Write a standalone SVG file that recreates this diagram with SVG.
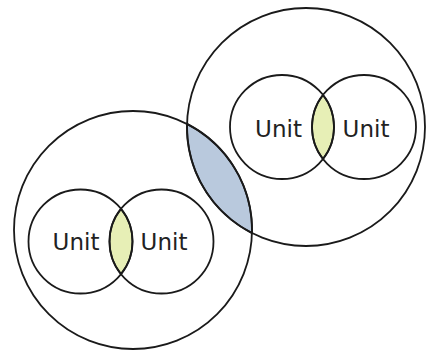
<svg xmlns="http://www.w3.org/2000/svg" width="426" height="358" viewBox="0 0 426 358">
<style>
.c{fill:none;stroke:#1a1a1a;stroke-width:1.8}
.l{stroke:#1a1a1a;stroke-width:1.8}
.blue{fill:#b9c9dd}
.yel{fill:#e7efb6}
.t{font-family:"DejaVu Sans",sans-serif;font-size:23px;fill:#222;text-anchor:middle}
</style>
<rect width="426" height="358" fill="#fff"/>
<g id="overlap-groups">
<path class="blue l" d="M187,123.9 A119 119 0 0 1 252,233.1 A119 119 0 0 1 187,123.9 Z"/>
</g>
<g id="overlap-left">
<path class="yel l" d="M121,208.9 A52 52 0 0 1 121,274.1 A52 52 0 0 1 121,208.9 Z"/>
</g>
<g id="overlap-right">
<path class="yel l" d="M323,95 A52 52 0 0 1 323,159 A52 52 0 0 1 323,95 Z"/>
</g>
<g id="group-left">
<circle class="c" cx="133" cy="230" r="119"/>
</g>
<g id="group-right">
<circle class="c" cx="306" cy="127" r="119"/>
</g>
<g id="unit-l1">
<circle class="c" cx="80.5" cy="241.5" r="52"/>
<text class="t" x="76" y="250">Unit</text>
</g>
<g id="unit-l2">
<circle class="c" cx="161.5" cy="241.5" r="52"/>
<text class="t" x="164" y="250">Unit</text>
</g>
<g id="unit-r1">
<circle class="c" cx="282" cy="127" r="52"/>
<text class="t" x="278.5" y="137">Unit</text>
</g>
<g id="unit-r2">
<circle class="c" cx="364" cy="127" r="52"/>
<text class="t" x="366" y="137">Unit</text>
</g>
<g id="connectors"></g>
</svg>
